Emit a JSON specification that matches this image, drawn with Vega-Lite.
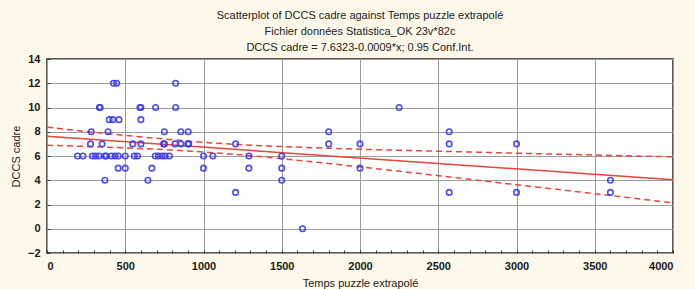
{
  "$schema": "https://vega.github.io/schema/vega-lite/v6.json",
  "autosize": "none",
  "width": 626,
  "height": 194,
  "padding": {"left": 47, "top": 59, "right": 22, "bottom": 36},
  "background": "#fdf8ea",
  "title": {
    "text": ["Scatterplot of DCCS cadre against Temps puzzle extrapolé", "Fichier données Statistica_OK 23v*82c", "DCCS cadre = 7.6323-0.0009*x; 0.95 Conf.Int."],
    "fontSize": 11,
    "fontWeight": "normal",
    "font": "Liberation Sans",
    "color": "#222",
    "lineHeight": 16,
    "anchor": "middle",
    "frame": "group",
    "offset": 0
  },
  "datasets": {
    "pts": [
      {"t": 425, "d": 12}, {"t": 445, "d": 12}, {"t": 822, "d": 12},
      {"t": 335, "d": 10}, {"t": 340, "d": 10}, {"t": 594, "d": 10}, {"t": 600, "d": 10}, {"t": 694, "d": 10}, {"t": 822, "d": 10}, {"t": 2250, "d": 10},
      {"t": 398, "d": 9}, {"t": 420, "d": 9}, {"t": 460, "d": 9}, {"t": 600, "d": 9},
      {"t": 283, "d": 8}, {"t": 390, "d": 8}, {"t": 750, "d": 8}, {"t": 855, "d": 8}, {"t": 902, "d": 8}, {"t": 1800, "d": 8}, {"t": 2570, "d": 8},
      {"t": 278, "d": 7}, {"t": 352, "d": 7}, {"t": 548, "d": 7}, {"t": 600, "d": 7}, {"t": 745, "d": 7}, {"t": 750, "d": 7}, {"t": 818, "d": 7}, {"t": 855, "d": 7}, {"t": 900, "d": 7}, {"t": 905, "d": 7}, {"t": 1205, "d": 7}, {"t": 1800, "d": 7}, {"t": 2000, "d": 7}, {"t": 2570, "d": 7}, {"t": 3000, "d": 7},
      {"t": 195, "d": 6}, {"t": 230, "d": 6}, {"t": 290, "d": 6}, {"t": 310, "d": 6}, {"t": 332, "d": 6}, {"t": 370, "d": 6}, {"t": 378, "d": 6}, {"t": 412, "d": 6}, {"t": 435, "d": 6}, {"t": 456, "d": 6}, {"t": 500, "d": 6}, {"t": 558, "d": 6}, {"t": 578, "d": 6}, {"t": 692, "d": 6}, {"t": 712, "d": 6}, {"t": 735, "d": 6}, {"t": 755, "d": 6}, {"t": 782, "d": 6}, {"t": 1000, "d": 6}, {"t": 1060, "d": 6}, {"t": 1290, "d": 6}, {"t": 1500, "d": 6},
      {"t": 455, "d": 5}, {"t": 500, "d": 5}, {"t": 670, "d": 5}, {"t": 1000, "d": 5}, {"t": 1290, "d": 5}, {"t": 1500, "d": 5}, {"t": 2000, "d": 5},
      {"t": 370, "d": 4}, {"t": 645, "d": 4}, {"t": 1500, "d": 4}, {"t": 3600, "d": 4},
      {"t": 1205, "d": 3}, {"t": 2570, "d": 3}, {"t": 3000, "d": 3}, {"t": 3600, "d": 3},
      {"t": 1633, "d": 0}
    ],
    "fit": [
      {"t": 0, "d": 7.632}, {"t": 4000, "d": 4.032}
    ],
    "band": [
      {"t": 0, "d": 8.38, "b": "hi"},
      {"t": 250, "d": 8.02, "b": "hi"},
      {"t": 500, "d": 7.70, "b": "hi"},
      {"t": 750, "d": 7.40, "b": "hi"},
      {"t": 1000, "d": 7.13, "b": "hi"},
      {"t": 1250, "d": 6.93, "b": "hi"},
      {"t": 1500, "d": 6.78, "b": "hi"},
      {"t": 2000, "d": 6.56, "b": "hi"},
      {"t": 2500, "d": 6.39, "b": "hi"},
      {"t": 3000, "d": 6.23, "b": "hi"},
      {"t": 3500, "d": 6.08, "b": "hi"},
      {"t": 4000, "d": 5.93, "b": "hi"},
      {"t": 0, "d": 6.88, "b": "lo"},
      {"t": 250, "d": 6.79, "b": "lo"},
      {"t": 500, "d": 6.67, "b": "lo"},
      {"t": 750, "d": 6.52, "b": "lo"},
      {"t": 1000, "d": 6.33, "b": "lo"},
      {"t": 1250, "d": 6.08, "b": "lo"},
      {"t": 1500, "d": 5.78, "b": "lo"},
      {"t": 2000, "d": 5.10, "b": "lo"},
      {"t": 2500, "d": 4.38, "b": "lo"},
      {"t": 3000, "d": 3.63, "b": "lo"},
      {"t": 3500, "d": 2.89, "b": "lo"},
      {"t": 4000, "d": 2.13, "b": "lo"}
    ]
  },
  "encoding": {
    "x": {
      "field": "t", "type": "quantitative",
      "scale": {"domain": [0, 4000], "nice": false, "zero": false},
      "axis": {
        "title": "Temps puzzle extrapolé",
        "tickCount": 40,
        "labelExpr": "datum.value % 500 === 0 ? datum.label : ''",
        "format": "d",
        "labelOverlap": false,
        "gridOpacity": {"condition": {"test": "datum.value % 500 === 0", "value": 1}, "value": 0},
        "tickSize": -3,
        "labelPadding": 10,
        "titlePadding": 6
      }
    },
    "y": {
      "field": "d", "type": "quantitative",
      "scale": {"domain": [-2, 14], "nice": false, "zero": false},
      "axis": {
        "title": "DCCS cadre",
        "values": [-2, 0, 2, 4, 6, 8, 10, 12, 14],
        "labelOverlap": false,
        "tickSize": -3,
        "labelPadding": 10,
        "titlePadding": 6
      }
    }
  },
  "layer": [
    {
      "data": {"name": "band"},
      "mark": {"type": "line", "color": "#e8453c", "strokeWidth": 1.5, "strokeDash": [6, 4], "interpolate": "monotone"},
      "encoding": {"detail": {"field": "b", "type": "nominal"}}
    },
    {
      "data": {"name": "fit"},
      "mark": {"type": "line", "color": "#e8453c", "strokeWidth": 1.5},
      "encoding": {}
    },
    {
      "data": {"name": "pts"},
      "mark": {"type": "point", "shape": "circle", "filled": false, "color": "#3a3af2", "size": 30, "strokeWidth": 1.6, "opacity": 0.9},
      "encoding": {}
    }
  ],
  "config": {
    "view": {"stroke": "#222", "strokeWidth": 1.5, "fill": "#ffffff"},
    "axis": {
      "domain": false,
      "grid": true,
      "gridColor": "#9c9c9c",
      "gridWidth": 1,
      "tickColor": "#333",
      "tickWidth": 1,
      "labelFont": "Liberation Sans",
      "labelFontSize": 11,
      "labelFontWeight": "bold",
      "labelColor": "#1a1a1a",
      "titleFont": "Liberation Sans",
      "titleFontSize": 11,
      "titleFontWeight": "normal",
      "titleColor": "#1a1a1a"
    }
  }
}
